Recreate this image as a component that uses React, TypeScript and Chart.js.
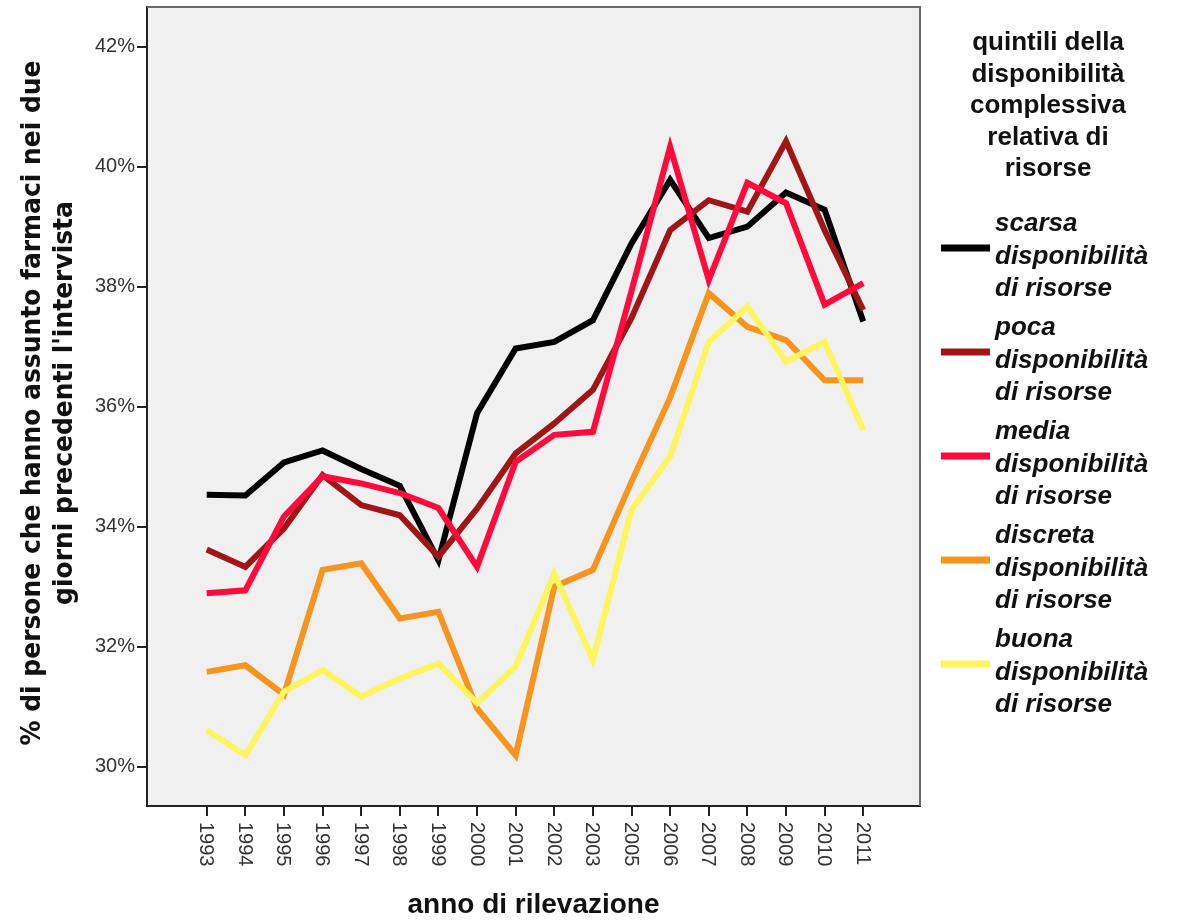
import React, { useEffect, useRef } from "react";
import { Chart, registerables } from "chart.js";

Chart.register(...registerables);

const years = ["1993", "1994", "1995", "1996", "1997", "1998", "1999", "2000", "2001", "2002", "2003", "2005", "2006", "2007", "2008", "2009", "2010", "2011"];

const scarsa = [34.53, 34.52, 35.07, 35.27, 34.96, 34.68, 33.44, 35.89, 36.97, 37.08, 37.44, 38.72, 39.78, 38.81, 39.0, 39.57, 39.28, 37.42];
const poca = [33.62, 33.33, 33.97, 34.86, 34.36, 34.19, 33.5, 34.3, 35.22, 35.72, 36.28, 37.48, 38.94, 39.44, 39.25, 40.42, 38.94, 37.61];
const media = [32.89, 32.94, 34.17, 34.84, 34.72, 34.56, 34.31, 33.33, 35.08, 35.53, 35.58, 37.93, 40.33, 38.11, 39.73, 39.39, 37.7, 38.06];
const discreta = [31.58, 31.69, 31.2, 33.28, 33.39, 32.47, 32.58, 30.97, 30.19, 33.0, 33.28, 34.75, 36.15, 37.89, 37.33, 37.11, 36.44, 36.44];
const buona = [30.61, 30.19, 31.25, 31.61, 31.17, 31.47, 31.72, 31.06, 31.67, 33.22, 31.78, 34.28, 35.17, 37.08, 37.67, 36.75, 37.08, 35.61];

const yTickValues = [30, 32, 34, 36, 38, 40, 42];

const seriesNames = [
  ["scarsa", "disponibilità", "di risorse"],
  ["poca", "disponibilità", "di risorse"],
  ["media", "disponibilità", "di risorse"],
  ["discreta", "disponibilità", "di risorse"],
  ["buona", "disponibilità", "di risorse"],
];
const seriesColors = ["#000000", "#a01616", "#ff0a3c", "#f7941d", "#fcf55e"];
const seriesValues = [scarsa, poca, media, discreta, buona];

const legendTitle = ["quintili della", "disponibilità", "complessiva", "relativa di", "risorse"];
const yTitle = ["% di persone che hanno assunto farmaci nei due", "giorni precedenti l'intervista"];
const xTitle = "anno di rilevazione";

const decorPlugin = {
  id: "decor",
  beforeDraw(chart: any) {
    const { ctx, chartArea: a } = chart;
    ctx.save();
    ctx.fillStyle = "#f0f0f0";
    ctx.fillRect(a.left, a.top, a.right - a.left, a.bottom - a.top);
    ctx.restore();
  },
  afterDraw(chart: any) {
    const { ctx, chartArea: a } = chart;
    const xs = chart.scales.x;
    ctx.save();
    // top and right frame
    ctx.strokeStyle = "#6a6a6a";
    ctx.lineWidth = 2;
    ctx.beginPath();
    ctx.moveTo(a.left, a.top);
    ctx.lineTo(a.right, a.top);
    ctx.lineTo(a.right, a.bottom);
    ctx.stroke();

    // x tick labels, rotated clockwise
    ctx.fillStyle = "#333";
    ctx.font = "20px 'Liberation Sans', Arial, sans-serif";
    ctx.textAlign = "left";
    ctx.textBaseline = "middle";
    years.forEach((y, i) => {
      const px = xs.getPixelForValue(i);
      ctx.save();
      ctx.translate(px - 1, a.bottom + 16);
      ctx.rotate(Math.PI / 2);
      ctx.fillText(y, 0, 0);
      ctx.restore();
    });

    // x title
    ctx.fillStyle = "#111";
    ctx.font = "bold 28px 'Liberation Sans', Arial, sans-serif";
    ctx.textAlign = "center";
    ctx.textBaseline = "middle";
    ctx.fillText(xTitle, (a.left + a.right) / 2, 905);

    // y title (condensed)
    ctx.font = "bold 27px 'Liberation Sans Narrow', 'DejaVu Sans Condensed', 'Liberation Sans', sans-serif";
    const w0 = ctx.measureText(yTitle[0]).width;
    const sx = 685 / w0;
    const cy = 403;
    const xs2 = [33, 65];
    yTitle.forEach((t, i) => {
      ctx.save();
      ctx.translate(xs2[i], cy);
      ctx.rotate(-Math.PI / 2);
      ctx.scale(sx, 1);
      ctx.textAlign = "center";
      ctx.textBaseline = "middle";
      ctx.fillText(t, 0, 0);
      ctx.restore();
    });

    // legend title
    ctx.font = "bold 26px 'Liberation Sans', Arial, sans-serif";
    ctx.textAlign = "center";
    ctx.textBaseline = "alphabetic";
    legendTitle.forEach((t, i) => {
      ctx.fillText(t, 1048, 50 + i * 31.5);
    });

    // legend items
    chart.data.datasets.forEach((ds: any, i: number) => {
      const ly = 248 + i * 104;
      ctx.strokeStyle = ds.borderColor;
      ctx.lineWidth = 7;
      ctx.beginPath();
      ctx.moveTo(941, ly);
      ctx.lineTo(990, ly);
      ctx.stroke();
      ctx.fillStyle = "#111";
      ctx.font = "italic bold 26px 'Liberation Sans', Arial, sans-serif";
      ctx.textAlign = "left";
      const lines = seriesNames[i];
      lines.forEach((t, j) => {
        ctx.fillText(t, 995, ly - 17 + j * 32.5);
      });
    });
    ctx.restore();
  },
};

export default function App() {
  const ref = useRef<HTMLCanvasElement>(null);
  useEffect(() => {
    if (!ref.current) return;
    const datasets = seriesValues.map((vals, i) => ({
      label: seriesNames[i].join(" "),
      data: vals.map((v, k) => ({ x: k, y: v })),
      borderColor: seriesColors[i],
      backgroundColor: seriesColors[i],
      borderWidth: 6,
      pointRadius: 0,
      tension: 0,
      borderJoinStyle: "miter" as const,
      borderCapStyle: "butt" as const,
      order: seriesValues.length - i,
    }));
    const chart = new Chart(ref.current, {
      type: "line",
      data: { datasets },
      options: {
        animation: false,
        responsive: false,
        events: [],
        layout: { padding: { left: 0, top: 7, right: 263, bottom: 0 } },
        plugins: { legend: { display: false }, tooltip: { enabled: false } },
        scales: {
          x: {
            type: "linear",
            min: -1.546,
            max: 18.47,
            afterBuildTicks: (s: any) => {
              s.ticks = years.map((_, i) => ({ value: i }));
            },
            afterFit: (s: any) => {
              s.height = 114;
              s.paddingLeft = 0;
              s.paddingRight = 0;
              s.paddingTop = 0;
              s.paddingBottom = 0;
            },
            grid: { drawOnChartArea: false, drawTicks: true, tickLength: 10, color: "#222", lineWidth: 2 },
            border: { display: true, color: "#222", width: 2 },
            ticks: { display: false },
          },
          y: {
            type: "linear",
            min: 29.345,
            max: 42.66,
            afterBuildTicks: (s: any) => {
              s.ticks = yTickValues.map((v) => ({ value: v }));
            },
            afterFit: (s: any) => {
              s.width = 147;
              s.paddingLeft = 0;
              s.paddingRight = 0;
              s.paddingTop = 0;
              s.paddingBottom = 0;
            },
            grid: { drawOnChartArea: false, drawTicks: true, tickLength: 10, color: "#222", lineWidth: 2 },
            border: { display: true, color: "#222", width: 2 },
            ticks: {
              padding: 2,
              color: "#333",
              font: { family: "'Liberation Sans', Arial, sans-serif", size: 20 },
              callback: (v: any) => `${v}%`,
            },
          },
        },
      },
      plugins: [decorPlugin],
    });
    return () => chart.destroy();
  }, []);
  return (
    <div style={{ position: "fixed", left: 0, top: 0, width: 1183, height: 920, background: "#fff" }}>
      <canvas ref={ref} width={1183} height={920} style={{ display: "block" }} />
    </div>
  );
}
